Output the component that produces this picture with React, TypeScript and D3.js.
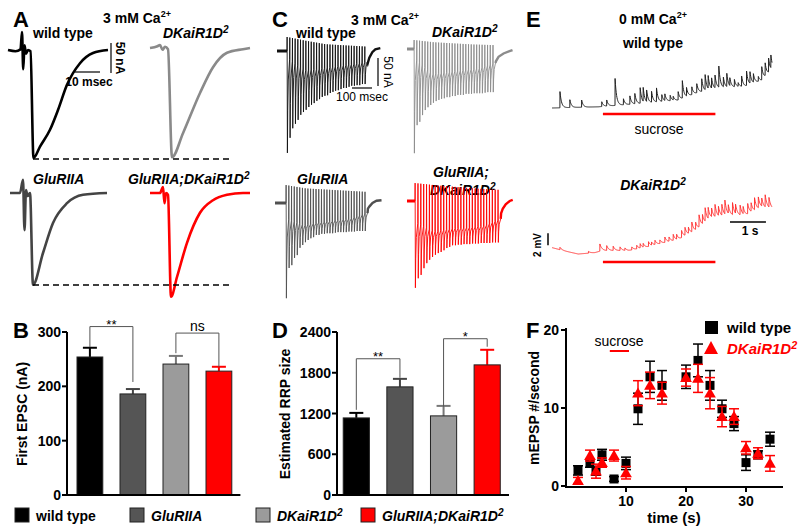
import React from "react";
import * as d3 from "d3";

const FONT = "'Liberation Sans', Arial, Helvetica, sans-serif";

// ---------------- Panels B / D : bar data ----------------
const genotypes = ["wild type", "GluRIIA", "DKaiR1D2", "GluRIIA;DKaiR1D2"];
const genotypeColors = ["#000000", "#555555", "#9b9b9b", "#ff0000"];
const errorColors = ["#000000", "#444444", "#777777", "#ff0000"];
const firstEPSC = [254, 186, 241, 228];
const firstEPSCErr = [17, 9, 15, 8];
const rrpSize = [1135, 1592, 1165, 1916];
const rrpErr = [74, 118, 147, 222];
const epscTicks = [0, 100, 200, 300];
const rrpTicks = [0, 600, 1200, 1800, 2400];
// significance brackets: [fromIdx, toIdx, level, leftEnd, rightEnd, label]
const epscBrackets: [number, number, number, number, number, string][] = [
  [0, 1, 310, 272, 208, "**"],
  [2, 3, 298, 261, 236, "ns"],
];
const rrpBrackets: [number, number, number, number, number, string][] = [
  [0, 1, 2006, 1254, 1726, "**"],
  [2, 3, 2301, 1298, 2183, "*"],
];

// ---------------- Panel F : mEPSP frequency ----------------
const timePoints = [2, 4, 5, 6, 8, 10, 12, 14, 16, 20, 22, 24, 26, 28, 30, 32, 34];
const wtRate = [2.0, 2.9, 1.9, 4.0, 0.9, 2.9, 9.9, 14, 12.9, 14, 16.1, 12.9, 9.9, 8, 3, 4, 6];
const wtRateErr = [0.6, 0.5, 0.5, 0.7, 0.3, 0.8, 2, 2, 1.9, 1.5, 2.1, 1.9, 1.1, 0.9, 1, 0.5, 0.9];
const dkRate = [0.7, 3.9, 1.9, 3, 3.9, 1.7, 11.9, 12.9, 11.9, 13.9, 13.8, 11.9, 8.9, 8.9, 4.9, 4.2, 2.9];
const dkRateErr = [0.4, 0.7, 0.9, 0.6, 0.7, 0.8, 1.6, 1.7, 1.4, 1.1, 1.8, 2, 1.3, 1, 0.8, 0.7, 1];
const rateXTicks = [10, 20, 30];
const rateYTicks = [0, 10, 20];
const sucroseWindow = [7.3, 10.5];

// ---------------- Panel A : single EPSCs [ms, nA inward] ----------------
const epscWT: [number, number][] = [
  [0, 0], [3, 2], [5, -1], [5.6, -30], [6.1, 32], [6.6, -8], [7.2, 6], [8, 0], [9, 2],
  [10.2, 180], [12.8, 161], [16.8, 133], [20, 100], [23.6, 58], [28.8, 22], [34, 5], [40, 0],
];
const epscDK: [number, number][] = [
  [0, 0], [3, -3], [4, -5], [5, 3], [6, -2], [7.2, 2], [8.8, 182], [13.2, 142], [20, 75],
  [25.2, 32], [30.8, 8], [37.2, 2], [40, 0],
];
const epscGlu: [number, number][] = [
  [0, 0], [4, 0], [5.2, -22], [5.8, 62], [6.4, -5], [7, 5], [8, 0], [9.2, 153], [13.2, 100],
  [17.2, 50], [22.8, 17], [29.2, 3], [38.8, 0],
];
const epscGluDK: [number, number][] = [
  [0, 0], [4, 0], [5.2, -10], [5.8, 17], [6.4, 0], [7.2, 3], [8.4, 173], [10.8, 140],
  [14.8, 83], [20, 33], [25.2, 12], [30.8, 3], [37.2, 0], [40, 0],
];

// ---------------- Panel C : trains (peak nA per pulse) ----------------
const trainWTPeaks = [182, 155, 138, 130, 123, 114, 109, 105, 100, 96, 93, 89, 86, 82, 80, 79, 75, 73, 71, 70, 68, 66, 66, 64, 62, 62, 61, 61, 59, 59];
const trainDKPeaks = [186, 136, 130, 118, 109, 104, 100, 96, 93, 91, 89, 88, 86, 86, 84, 84, 82, 82, 82, 80, 80, 80, 79, 79, 79, 79, 78, 77, 77, 77];
const trainGluPeaks = [170, 116, 111, 98, 93, 80, 75, 70, 66, 63, 61, 57, 57, 55, 55, 54, 54, 54, 53, 52, 52, 52, 52, 51, 51, 51, 50, 50, 50, 50];
const trainGluDKPeaks = [155, 138, 132, 120, 111, 105, 100, 96, 93, 91, 88, 84, 82, 79, 79, 78, 78, 77, 77, 77, 76, 76, 76, 75, 75, 75, 75, 74, 74, 74];
const trainWTResid = [15, 35, 32, 28, 24, 20];
const trainDKResid = [20, 45, 42, 38, 35, 25];
const trainGluResid = [30, 40, 35, 32, 28, 18];
const trainGluDKResid = [40, 55, 50, 48, 45, 32];
const trainWTTops = [-25, -18, -12, -10, -8];
const trainDKTops = [-16, -12, -10, -8, -7];
const trainGluTops = [-32, -26, -24, -22, -20];
const trainGluDKTops = [-32, -28, -25, -22, -20];
const trainWTTail: [number, number][] = [[2, 22], [10, 12], [25, 2], [40, -3], [65, -5]];
const trainDKTail: [number, number][] = [[2, 22], [15, 14], [40, 8], [70, 4], [85, 2]];
const trainGluTail: [number, number][] = [[2, 10], [10, 6], [25, 0], [45, -4], [70, -5]];
const trainGluDKTail: [number, number][] = [[2, 22], [10, 14], [25, 6], [45, 0], [60, -2]];

// ---------------- Panel E : spontaneous events ----------------
const wtBaseT = [0, 1.22, 2.45, 3.32, 3.85, 4.38, 5.08, 5.52, 5.78];
const wtBaseV = [0, 0.2, 0.8, 1.3, 2.6, 3.3, 3.6, 4.6, 6.3];
const wtEvT = [0.21, 0.47, 0.78, 1.31, 1.44, 1.66, 1.88, 2.05, 2.18, 2.32, 2.4, 2.49, 2.62, 2.75, 2.89, 2.97, 3.11, 3.19, 3.32, 3.43, 3.54, 3.68, 3.81, 3.94, 4.03, 4.11, 4.2, 4.29, 4.39, 4.51, 4.6, 4.68, 4.8, 4.9, 4.99, 5.12, 5.21, 5.3, 5.43, 5.52, 5.61, 5.7, 5.76];
const wtEvA = [2.7, 1.3, 1.2, 0.8, 1.0, 4.5, 1.0, 1.4, 1.7, 2.6, 2.3, 1.9, 1.8, 2.3, 1.1, 1.1, 0.9, 0.6, 1.4, 2.9, 1.4, 1.3, 1.5, 2.1, 2.5, 2.1, 1.7, 2.1, 3.5, 1.6, 2.2, 1.3, 1.2, 0.6, 1.7, 2.4, 1.9, 1.4, 0.8, 2.2, 2.1, 2.3, 2.1];
const dkBaseT = [0, 0.34, 0.69, 1.13, 1.31, 2.01, 2.45, 2.89, 3.32, 3.76, 4.2, 4.64, 5.08, 5.52, 5.78];
const dkBaseV = [-0.1, -0.67, -1.17, -0.94, -0.6, -0.6, -0.1, 0.6, 1.2, 2.6, 4.7, 5.2, 5.2, 6.5, 6.3];
const dkEvT = [0.21, 0.96, 1.26, 1.44, 1.61, 1.79, 1.92, 2.1, 2.23, 2.32, 2.4, 2.54, 2.62, 2.71, 2.84, 2.97, 3.08, 3.19, 3.28, 3.41, 3.5, 3.59, 3.68, 3.78, 3.87, 3.96, 4.03, 4.11, 4.2, 4.29, 4.38, 4.47, 4.55, 4.64, 4.75, 4.83, 4.95, 5.03, 5.15, 5.24, 5.33, 5.43, 5.52, 5.61, 5.71];
const dkEvA = [0.4, 0.3, 1.2, 0.8, 0.7, 0.6, 0.4, 0.5, 0.6, 0.7, 0.6, 0.8, 0.5, 0.7, 0.6, 0.9, 0.7, 1.0, 0.8, 1.2, 1.3, 1.0, 1.6, 1.2, 2.0, 1.5, 2.2, 1.8, 1.4, 2.0, 1.5, 1.8, 2.3, 1.4, 2.0, 1.5, 1.6, 1.2, 1.7, 1.4, 2.0, 1.8, 1.3, 2.0, 1.6];
const sucroseBarSec = [1.34, 4.3];

// ---------------- helpers ----------------
function Geno({ name }: { name: string }) {
  if (name === "wild type") return <tspan fontStyle="normal">wild type</tspan>;
  const parts = name.split("DKaiR1D2");
  if (parts.length === 1) return <tspan fontStyle="italic">{name}</tspan>;
  return (
    <tspan fontStyle="italic">
      {parts[0]}DKaiR1D<tspan dy={-5} fontSize="0.72em">2</tspan>
    </tspan>
  );
}

function CaTitle({ x, y, text }: { x: number; y: number; text: string }) {
  return (
    <text x={x} y={y} textAnchor="middle" fontWeight="bold" fontSize={14}>
      {text}
      <tspan dy={-6} fontSize={9}>2+</tspan>
    </text>
  );
}

function trainPaths(
  peaks: number[], resid: number[], tops: number[], tail: [number, number][],
  x0: number, y0: number, preMs: number, intervalMs: number
) {
  const n = peaks.length;
  const xs = d3.scaleLinear().domain([0, 100]).range([x0, x0 + 20]);
  const ys = d3.scaleLinear().domain([0, 50]).range([y0, y0 + 28]);
  const rs = d3.scaleLinear().domain(resid.map((_, i) => (i * (n - 1)) / (resid.length - 1))).range(resid);
  const ts = d3.scaleLinear().domain(tops.map((_, i) => (i * (n - 1)) / (tops.length - 1))).range(tops);
  const line = d3.line<[number, number]>().x((d) => xs(d[0])).y((d) => ys(d[1]));
  const pre: [number, number][] = [[0, 0], [preMs, 0]];
  const pul: [number, number][] = [[preMs, 0]];
  peaks.forEach((p, i) => {
    const tp = preMs + i * intervalMs;
    const r = rs(i);
    pul.push([tp + 0.6, ts(i)]);
    pul.push([tp + 2.0, p]);
    pul.push([tp + 3.6, r + (p - r) * 0.55]);
    pul.push([tp + 6.5, r + (p - r) * 0.22]);
    pul.push([tp + intervalMs - 0.4, r]);
  });
  const last = preMs + (n - 1) * intervalMs + intervalMs - 0.4;
  const tl: [number, number][] = [[last, rs(n - 1)], ...tail.map((d) => [last + d[0], d[1]] as [number, number])];
  return { pre: line(pre)!, pulses: line(pul)!, tail: line(tl)! };
}

function spont(baseT: number[], baseV: number[], evT: number[], evA: number[], tEnd: number, tau: number) {
  const base = d3.scaleLinear().domain(baseT).range(baseV).clamp(true);
  const times: number[] = d3.range(0, tEnd, 0.01);
  evT.forEach((t) => { times.push(t - 0.002); times.push(t); });
  times.sort((a, b) => a - b);
  return times.map((t) => {
    let v = base(t);
    evT.forEach((te, k) => {
      const d = t - te;
      if (d >= 0 && d < tau * 8) v += evA[k] * Math.exp(-d / tau);
    });
    return [t, v] as [number, number];
  });
}

function EPSC({ data, x0, y0, color }: { data: [number, number][]; x0: number; y0: number; color: string }) {
  const xs = d3.scaleLinear().domain([0, 10]).range([x0, x0 + 25]);
  const ys = d3.scaleLinear().domain([0, 50]).range([y0, y0 + 30]);
  const line = d3.line<[number, number]>().x((d) => xs(d[0])).y((d) => ys(d[1])).curve(d3.curveMonotoneX);
  return <path d={line(data)!} fill="none" stroke={color} strokeWidth={2.6} strokeLinejoin="round" />;
}

function Train(props: {
  peaks: number[]; resid: number[]; tops: number[]; tail: [number, number][];
  x0: number; y0: number; preMs: number; intervalMs: number; color: string;
}) {
  const p = trainPaths(props.peaks, props.resid, props.tops, props.tail, props.x0, props.y0, props.preMs, props.intervalMs);
  return (
    <g fill="none" stroke={props.color}>
      <path d={p.pre} strokeWidth={3} />
      <path d={p.pulses} strokeWidth={0.9} />
      <path d={p.tail} strokeWidth={2.4} />
    </g>
  );
}

function BarPanel(props: {
  values: number[]; errs: number[]; ticks: number[]; domainMax: number;
  x0: number; x1: number; brackets: [number, number, number, number, number, string][];
  label: string; labelX: number; axisX: number;
}) {
  const y = d3.scaleLinear().domain([0, props.domainMax]).range([495, 332]);
  const x = d3.scaleBand<string>().domain(genotypes).range([props.x0, props.x1]).paddingInner(0.4).paddingOuter(0.2);
  const bw = x.bandwidth();
  return (
    <g>
      {props.values.map((v, i) => {
        const cx = x(genotypes[i])! + bw / 2;
        const top = y(v + props.errs[i]);
        return (
          <g key={i}>
            <line x1={cx} x2={cx} y1={y(v)} y2={top} stroke={errorColors[i]} strokeWidth={2} />
            <line x1={cx - 7} x2={cx + 7} y1={top} y2={top} stroke={errorColors[i]} strokeWidth={2} />
            <rect x={x(genotypes[i])!} y={y(v)} width={bw} height={y(0) - y(v)} fill={genotypeColors[i]} stroke="#222" strokeWidth={1} />
          </g>
        );
      })}
      <line x1={props.axisX} x2={props.axisX} y1={y(props.domainMax)} y2={y(0)} stroke="#000" strokeWidth={2} />
      <line x1={props.axisX} x2={props.x1} y1={y(0)} y2={y(0)} stroke="#000" strokeWidth={2} />
      {props.ticks.map((t) => (
        <g key={t}>
          <line x1={props.axisX - 5} x2={props.axisX} y1={y(t)} y2={y(t)} stroke="#000" strokeWidth={2} />
          <text x={props.axisX - 6} y={y(t) + 5} textAnchor="end" fontWeight="bold" fontSize={14}>{t}</text>
        </g>
      ))}
      {props.brackets.map(([a, b, lvl, le, re, lab], k) => {
        const xa = x(genotypes[a])! + bw / 2;
        const xb = x(genotypes[b])! + bw / 2;
        return (
          <g key={k}>
            <path d={`M${xa},${y(le)}V${y(lvl)}H${xb}V${y(re)}`} fill="none" stroke="#555" strokeWidth={1} />
            <text x={(xa + xb) / 2} y={lab === "ns" ? y(lvl) - 2 : y(lvl) + 2} textAnchor="middle" fontSize={lab === "ns" ? 14 : 13}>{lab}</text>
          </g>
        );
      })}
      <text transform={`translate(${props.labelX},414) rotate(-90)`} textAnchor="middle" fontWeight="bold" fontSize={14}>{props.label}</text>
    </g>
  );
}

function RatePanel() {
  const x = d3.scaleLinear().domain([0, 36]).range([566, 782]);
  const y = d3.scaleLinear().domain([0, 20]).range([486, 330]);
  const tri = d3.symbol().type(d3.symbolTriangle).size(60);
  return (
    <g>
      <line x1={566} x2={566} y1={328} y2={487} stroke="#000" strokeWidth={2} />
      <line x1={565} x2={783} y1={487} y2={487} stroke="#000" strokeWidth={2} />
      {rateYTicks.map((t) => (
        <g key={t}>
          <line x1={561} x2={566} y1={y(t)} y2={y(t)} stroke="#000" strokeWidth={2} />
          <text x={559} y={y(t) + 5} textAnchor="end" fontWeight="bold" fontSize={14}>{t}</text>
        </g>
      ))}
      {rateXTicks.map((t) => (
        <g key={t}>
          <line x1={x(t)} x2={x(t)} y1={487} y2={492} stroke="#000" strokeWidth={2} />
          <text x={x(t)} y={506} textAnchor="middle" fontWeight="bold" fontSize={14}>{t}</text>
        </g>
      ))}
      <text x={674} y={523} textAnchor="middle" fontWeight="bold" fontSize={15}>time (s)</text>
      <text transform="translate(539,408) rotate(-90)" textAnchor="middle" fontWeight="bold" fontSize={14}>mEPSP #/second</text>
      <text x={619} y={346} textAnchor="middle" fontSize={14}>sucrose</text>
      <line x1={x(sucroseWindow[0])} x2={x(sucroseWindow[1])} y1={351} y2={351} stroke="#ff0000" strokeWidth={2} />
      {timePoints.map((t, i) => (
        <g key={"w" + i} stroke="#000" strokeWidth={1.5}>
          <line x1={x(t)} x2={x(t)} y1={y(wtRate[i] - wtRateErr[i])} y2={y(wtRate[i] + wtRateErr[i])} />
          <line x1={x(t) - 5} x2={x(t) + 5} y1={y(wtRate[i] - wtRateErr[i])} y2={y(wtRate[i] - wtRateErr[i])} />
          <line x1={x(t) - 5} x2={x(t) + 5} y1={y(wtRate[i] + wtRateErr[i])} y2={y(wtRate[i] + wtRateErr[i])} />
          <rect x={x(t) - 4.5} y={y(wtRate[i]) - 4.5} width={9} height={9} fill="#000" stroke="none" />
        </g>
      ))}
      {timePoints.map((t, i) => (
        <g key={"d" + i} stroke="#ff0000" strokeWidth={1.5}>
          <line x1={x(t)} x2={x(t)} y1={y(dkRate[i] - dkRateErr[i])} y2={y(dkRate[i] + dkRateErr[i])} />
          <line x1={x(t) - 5} x2={x(t) + 5} y1={y(dkRate[i] - dkRateErr[i])} y2={y(dkRate[i] - dkRateErr[i])} />
          <line x1={x(t) - 5} x2={x(t) + 5} y1={y(dkRate[i] + dkRateErr[i])} y2={y(dkRate[i] + dkRateErr[i])} />
          <path d={tri()!} transform={`translate(${x(t)},${y(dkRate[i]) + 1})`} fill="#ff0000" stroke="none" />
        </g>
      ))}
      <rect x={705} y={321} width={13} height={13} fill="#000" />
      <text x={727} y={333} fontWeight="bold" fontSize={15}>wild type</text>
      <path d="M704,354L718,354L711,341Z" fill="#ff0000" />
      <text x={727} y={354} fontWeight="bold" fontSize={15} fill="#ff0000"><Geno name="DKaiR1D2" /></text>
    </g>
  );
}

function SpontPanel() {
  const xs = d3.scaleLinear().domain([0, 1]).range([552, 590]);
  const yWT = d3.scaleLinear().domain([0, 1]).range([108, 102]);
  const yDK = d3.scaleLinear().domain([0, 1]).range([247, 241]);
  const wt = spont(wtBaseT, wtBaseV, wtEvT, wtEvA, 5.8, 0.04);
  const dk = spont(dkBaseT, dkBaseV, dkEvT, dkEvA, 5.8, 0.05);
  const lWT = d3.line<[number, number]>().x((d) => xs(d[0])).y((d) => yWT(d[1]));
  const lDK = d3.line<[number, number]>().x((d) => xs(d[0])).y((d) => yDK(d[1]));
  return (
    <g>
      <CaTitle x={653} y={24} text="0 mM Ca" />
      <text x={653} y={48} textAnchor="middle" fontWeight="bold" fontSize={14}>wild type</text>
      <path d={lWT(wt)!} fill="none" stroke="#222" strokeWidth={1} />
      <line x1={xs(sucroseBarSec[0])} x2={xs(sucroseBarSec[1])} y1={114} y2={114} stroke="#ff0000" strokeWidth={2.5} />
      <text x={659} y={134} textAnchor="middle" fontSize={14}>sucrose</text>
      <text x={653} y={190} textAnchor="middle" fontWeight="bold" fontSize={14}><Geno name="DKaiR1D2" /></text>
      <path d={lDK(dk)!} fill="none" stroke="#ff2a2a" strokeWidth={0.9} />
      <line x1={xs(sucroseBarSec[0])} x2={xs(sucroseBarSec[1])} y1={262} y2={262} stroke="#ff0000" strokeWidth={2.5} />
      <line x1={730} x2={xs(5.63)} y1={222} y2={222} stroke="#000" strokeWidth={1.5} />
      <text x={750} y={235} textAnchor="middle" fontWeight="bold" fontSize={12}>1 s</text>
      <line x1={548} x2={548} y1={yDK(0.3)} y2={yDK(2.3)} stroke="#000" strokeWidth={1.5} />
      <text transform="translate(541,245) rotate(-90)" textAnchor="middle" fontWeight="bold" fontSize={10}>2 mV</text>
    </g>
  );
}

export default function App() {
  return (
    <svg width={800} height={532} style={{ position: "absolute", left: 0, top: 0, background: "#fff" }} fontFamily={FONT}>
      <rect width={800} height={532} fill="#fff" />
      {/* Panel A */}
      <text x={13} y={27} fontWeight="bold" fontSize={22}>A</text>
      <CaTitle x={137} y={23} text="3 mM Ca" />
      <text x={33} y={38} fontWeight="bold" fontSize={14}>wild type</text>
      <text x={163} y={38} fontWeight="bold" fontSize={14}><Geno name="DKaiR1D2" /></text>
      <text x={33} y={184} fontWeight="bold" fontSize={14}><Geno name="GluRIIA" /></text>
      <text x={128} y={184} fontWeight="bold" fontSize={14}><Geno name="GluRIIA;DKaiR1D2" /></text>
      <EPSC data={epscWT} x0={8} y0={50} color="#000" />
      <EPSC data={epscDK} x0={150} y0={48} color="#8a8a8a" />
      <EPSC data={epscGlu} x0={10} y0={193} color="#444" />
      <EPSC data={epscGluDK} x0={150} y0={193} color="#ff0000" />
      <line x1={33} x2={230} y1={159} y2={159} stroke="#000" strokeWidth={1.5} strokeDasharray="6,4" />
      <line x1={33} x2={230} y1={285} y2={285} stroke="#000" strokeWidth={1.5} strokeDasharray="6,4" />
      <line x1={111} x2={111} y1={43} y2={73} stroke="#000" strokeWidth={1.2} />
      <line x1={75} x2={100} y1={72} y2={72} stroke="#000" strokeWidth={1.2} />
      <text transform="translate(116,58) rotate(90)" textAnchor="middle" fontWeight="bold" fontSize={12}>50 nA</text>
      <text x={89} y={86} textAnchor="middle" fontWeight="bold" fontSize={12}>10 msec</text>

      {/* Panel C */}
      <text x={272} y={27} fontWeight="bold" fontSize={22}>C</text>
      <CaTitle x={385} y={25} text="3 mM Ca" />
      <text x={296} y={38} fontWeight="bold" fontSize={14}>wild type</text>
      <text x={432} y={37} fontWeight="bold" fontSize={14}><Geno name="DKaiR1D2" /></text>
      <text x={297} y={184} fontWeight="bold" fontSize={14}><Geno name="GluRIIA" /></text>
      <text x={433} y={177} fontWeight="bold" fontSize={14}><Geno name="GluRIIA;" /></text>
      <text x={430} y={195} fontWeight="bold" fontSize={14}><Geno name="DKaiR1D2" /></text>
      <Train peaks={trainWTPeaks} resid={trainWTResid} tops={trainWTTops} tail={trainWTTail} x0={277} y0={51} preMs={50} intervalMs={13.4} color="#111" />
      <Train peaks={trainDKPeaks} resid={trainDKResid} tops={trainDKTops} tail={trainDKTail} x0={407} y0={49} preMs={35} intervalMs={13.6} color="#8c8c8c" />
      <Train peaks={trainGluPeaks} resid={trainGluResid} tops={trainGluTops} tail={trainGluTail} x0={275} y0={203} preMs={55} intervalMs={13.6} color="#505050" />
      <Train peaks={trainGluDKPeaks} resid={trainGluDKResid} tops={trainGluDKTops} tail={trainGluDKTail} x0={407} y0={201} preMs={40} intervalMs={14.3} color="#ff0000" />
      <line x1={378} x2={378} y1={58} y2={86} stroke="#000" strokeWidth={1.2} />
      <line x1={352} x2={372} y1={88} y2={88} stroke="#000" strokeWidth={1.2} />
      <text transform="translate(384,72) rotate(90)" textAnchor="middle" fontSize={12}>50 nA</text>
      <text x={362} y={101} textAnchor="middle" fontSize={12}>100 msec</text>

      {/* Panel E */}
      <text x={526} y={27} fontWeight="bold" fontSize={22}>E</text>
      <SpontPanel />

      {/* Panel B */}
      <text x={13} y={338} fontWeight="bold" fontSize={22}>B</text>
      <BarPanel values={firstEPSC} errs={firstEPSCErr} ticks={epscTicks} domainMax={300} x0={68.4} x1={240.4}
        brackets={epscBrackets} label="First EPSC (nA)" labelX={27} axisX={67} />

      {/* Panel D */}
      <text x={272} y={338} fontWeight="bold" fontSize={22}>D</text>
      <BarPanel values={rrpSize} errs={rrpErr} ticks={rrpTicks} domainMax={2400} x0={334.5} x1={509}
        brackets={rrpBrackets} label="Estimated RRP size" labelX={290} axisX={337} />

      {/* Panel F */}
      <text x={526} y={338} fontWeight="bold" fontSize={22}>F</text>
      <RatePanel />

      {/* Legend */}
      {genotypes.map((g, i) => {
        const sx = [15, 130, 256, 361][i];
        return (
          <g key={g}>
            <rect x={sx} y={508} width={14} height={14} fill={genotypeColors[i]} stroke="#222" strokeWidth={1} />
            <text x={sx + 21} y={521} fontWeight="bold" fontSize={14}><Geno name={g} /></text>
          </g>
        );
      })}
    </svg>
  );
}
